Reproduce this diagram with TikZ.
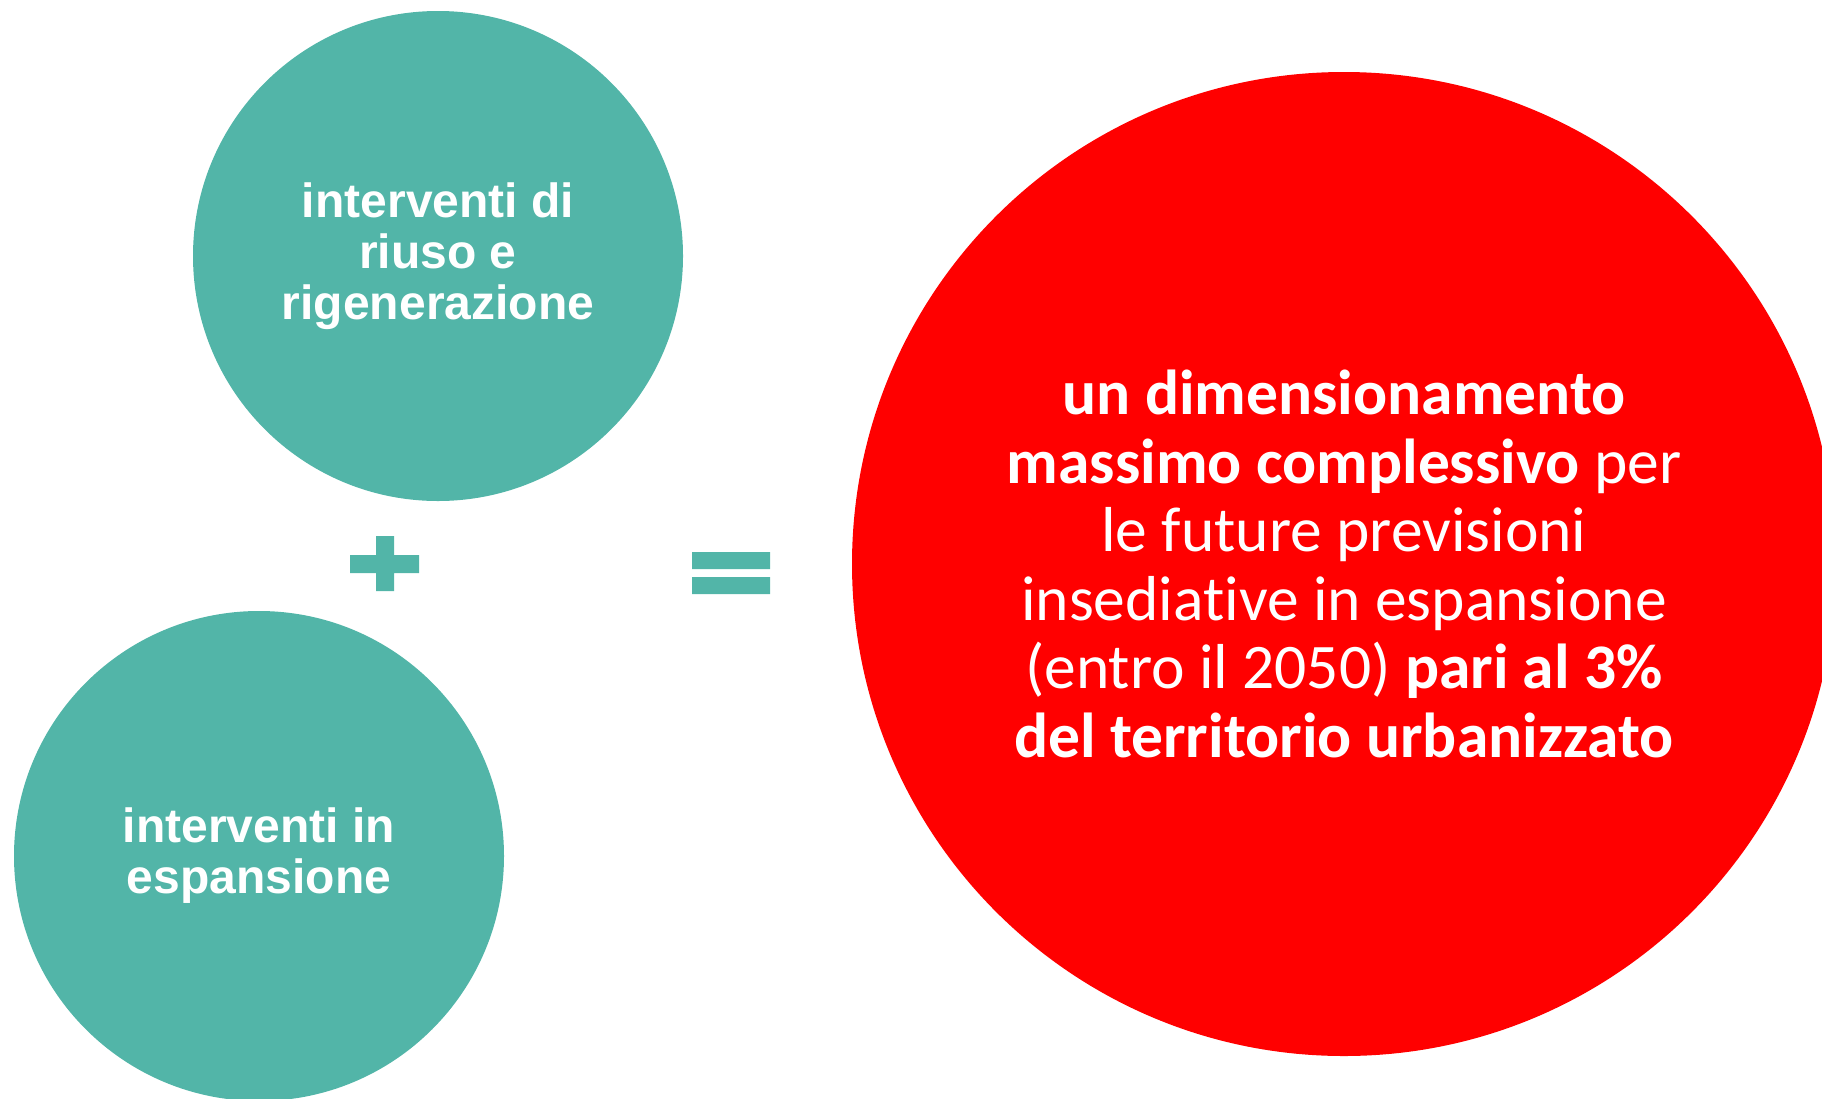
\documentclass[tikz,border=0pt]{standalone}
\usepackage{fontspec}
\setmainfont{Liberation Sans}
\newfontfamily\calibri[Ligatures=NoCommon]{Carlito}

\definecolor{acqua}{HTML}{52B5A8}
\definecolor{rosso}{HTML}{FF0000}

\tikzset{
	bolla/.style={circle, fill=acqua, minimum size=490pt, inner sep=0pt,
		text=white, align=center, font=\bfseries\fontsize{48}{51}\selectfont},
	totale/.style={circle, fill=rosso, minimum size=984pt, inner sep=0pt,
		text=white, align=center, font=\calibri\fontsize{63.5}{68.6}\selectfont},
	segno/.style={fill=acqua}
}

\begin{document}
\begin{tikzpicture}[x=1pt, y=-1pt]
		\useasboundingbox (0,0) rectangle (1822,1098);

		\node [bolla]	(riuso)		at (438,256)	{interventi di\\riuso e\\rigenerazione};
		\node [bolla]	(espansione)	at (259,856)	{interventi in\\espansione};

		\node [totale]	(dimensionamento)	at (1344,564)
			{\textbf{un dimensionamento}\\
			 \textbf{massimo complessivo} per\\
			 le future previsioni\\
			 insediative in espansione\\
			 (entro il 2050) \textbf{pari al 3\%}\\
			 \textbf{del territorio urbanizzato}};

		% piu'
		\fill [segno]	(350,555) rectangle (419,573)
						(376,536) rectangle (394,591);

		% uguale
		\fill [segno]	(692,552) rectangle (770,569)
						(692,577) rectangle (770,594);
	\end{tikzpicture}
\end{document}
